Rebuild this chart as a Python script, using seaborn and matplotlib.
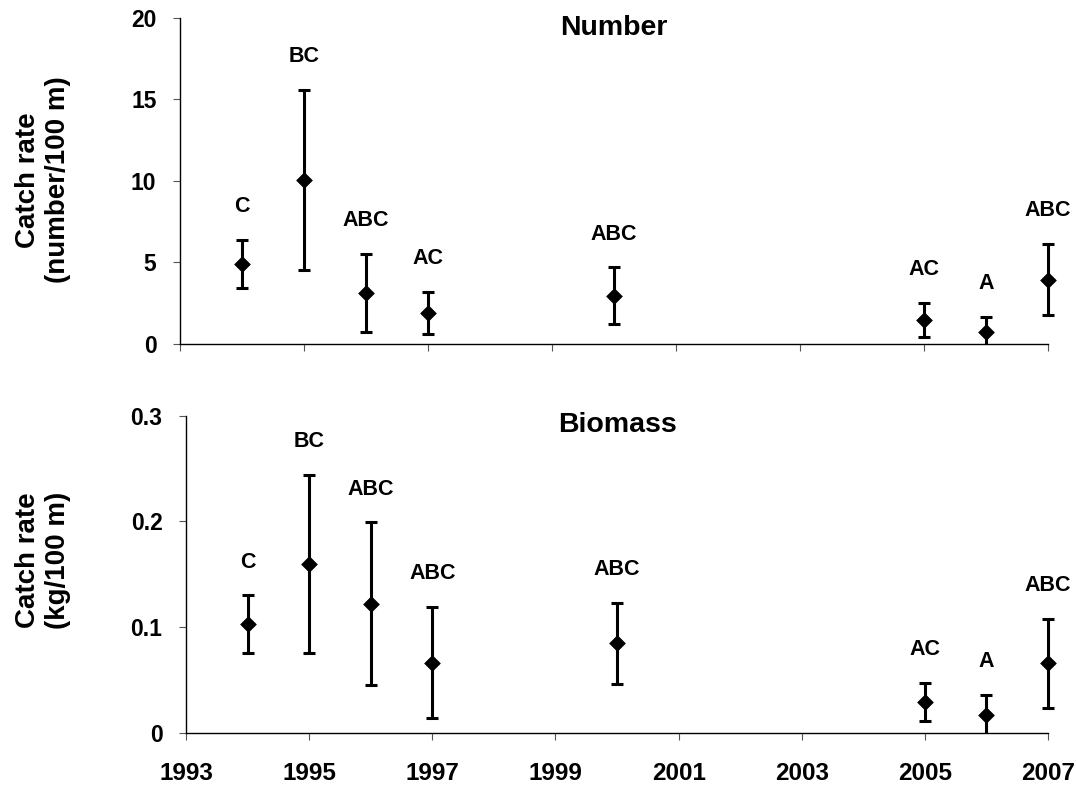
import matplotlib
matplotlib.use("Agg")
import matplotlib.pyplot as plt
from matplotlib.patches import Rectangle
import seaborn as sns
import pandas as pd
import numpy as np

# ---- data ----
years = [1994, 1995, 1996, 1997, 2000, 2005, 2006, 2007]

number_letters = ["C", "BC", "ABC", "AC", "ABC", "AC", "A", "ABC"]
number_mean = [4.9, 10.05, 3.1, 1.9, 2.95, 1.45, 0.75, 3.93]
number_low = [3.45, 4.55, 0.72, 0.6, 1.2, 0.45, -0.3, 1.78]
number_high = [6.4, 15.6, 5.52, 3.2, 4.7, 2.5, 1.67, 6.12]

biomass_letters = ["C", "BC", "ABC", "ABC", "ABC", "AC", "A", "ABC"]
biomass_mean = [0.103, 0.160, 0.1215, 0.066, 0.0846, 0.0288, 0.0168, 0.0657]
biomass_low = [0.075, 0.075, 0.045, 0.014, 0.046, 0.011, -0.005, 0.023]
biomass_high = [0.130, 0.244, 0.199, 0.119, 0.123, 0.047, 0.036, 0.108]

x_ticks = [1993, 1995, 1997, 1999, 2001, 2003, 2005, 2007]
number_yticks = [0, 5, 10, 15, 20]
biomass_yticks = [0, 0.1, 0.2, 0.3]
biomass_yticklabels = ["0", "0.1", "0.2", "0.3"]

sns.set_theme(style="ticks")
plt.rcParams["font.family"] = ["Liberation Sans", "DejaVu Sans"]
plt.rcParams["font.weight"] = "bold"
plt.rcParams["text.color"] = "black"
plt.rcParams["axes.labelcolor"] = "black"
plt.rcParams["xtick.color"] = "black"
plt.rcParams["ytick.color"] = "black"

fig = plt.figure(figsize=(10.76, 7.9), dpi=100)
ax1 = fig.add_axes([0.1673, 0.5646, 0.8067, 0.4127])
ax2 = fig.add_axes([0.1729, 0.0725, 0.8011, 0.4013])


def panel(ax, mean, low, high, letters, title, ymax, yticks, yticklabels, title_y):
    df = pd.DataFrame({"year": years, "mean": mean, "low": low, "high": high})
    yerr = [df["mean"] - df["low"], df["high"] - df["mean"]]
    # clip only at the bottom (value 0) so the last point at the axis end stays whole
    clip = Rectangle((-0.1, 0), 1.2, 1.3, transform=ax.transAxes,
                     facecolor="none", edgecolor="none")
    cont = ax.errorbar(df["year"], df["mean"], yerr=yerr, fmt="none", ecolor="black",
                       elinewidth=2.2, capsize=4.4, capthick=2.2, zorder=2)
    for art in cont.get_children():
        art.set_clip_path(clip)
    sns.scatterplot(data=df, x="year", y="mean", marker="D", s=64, color="black",
                    edgecolor="black", linewidth=0.5, ax=ax, zorder=3, legend=False,
                    clip_on=False)
    for x, h, lab in zip(df["year"], df["high"], letters):
        ax.annotate(lab, xy=(x, h), xytext=(0, 24), textcoords="offset points",
                    ha="center", va="center", fontsize=15.5, fontweight="bold",
                    color="black")
    ax.text(0.5, title_y, title, transform=ax.transAxes, ha="center", va="center",
            fontsize=20.5, fontweight="bold", color="black")
    ax.set_xlim(1993, 2007)
    ax.set_ylim(0, ymax)
    ax.set_xticks(x_ticks)
    ax.set_yticks(yticks)
    ax.set_yticklabels(yticklabels)
    ax.set_xlabel("")
    ax.set_ylabel("")
    sns.despine(ax=ax)
    for s in ["left", "bottom"]:
        ax.spines[s].set_linewidth(1.0)
        ax.spines[s].set_color("black")
    ax.tick_params(axis="y", length=5, width=0.8, color="#555555", pad=12,
                   labelsize=16.5, labelcolor="black")
    ax.tick_params(axis="x", length=5, width=0.8, color="#555555", pad=16,
                   labelsize=17.5, labelcolor="black")
    for t in ax.get_xticklabels() + ax.get_yticklabels():
        t.set_fontweight("bold")


panel(ax1, number_mean, number_low, number_high, number_letters, "Number",
      20, number_yticks, [str(v) for v in number_yticks], 0.968)
panel(ax2, biomass_mean, biomass_low, biomass_high, biomass_letters, "Biomass",
      0.3, biomass_yticks, biomass_yticklabels, 0.972)
ax1.tick_params(axis="x", labelbottom=False)

fig.text(0.040, 0.772, "Catch rate\n(number/100 m)", rotation=90, ha="center",
         va="center", multialignment="center", fontsize=20, fontweight="bold",
         color="black")
fig.text(0.040, 0.291, "Catch rate\n(kg/100 m)", rotation=90, ha="center",
         va="center", multialignment="center", fontsize=20, fontweight="bold",
         color="black")

fig.savefig("out.png", dpi=100, facecolor="white")
